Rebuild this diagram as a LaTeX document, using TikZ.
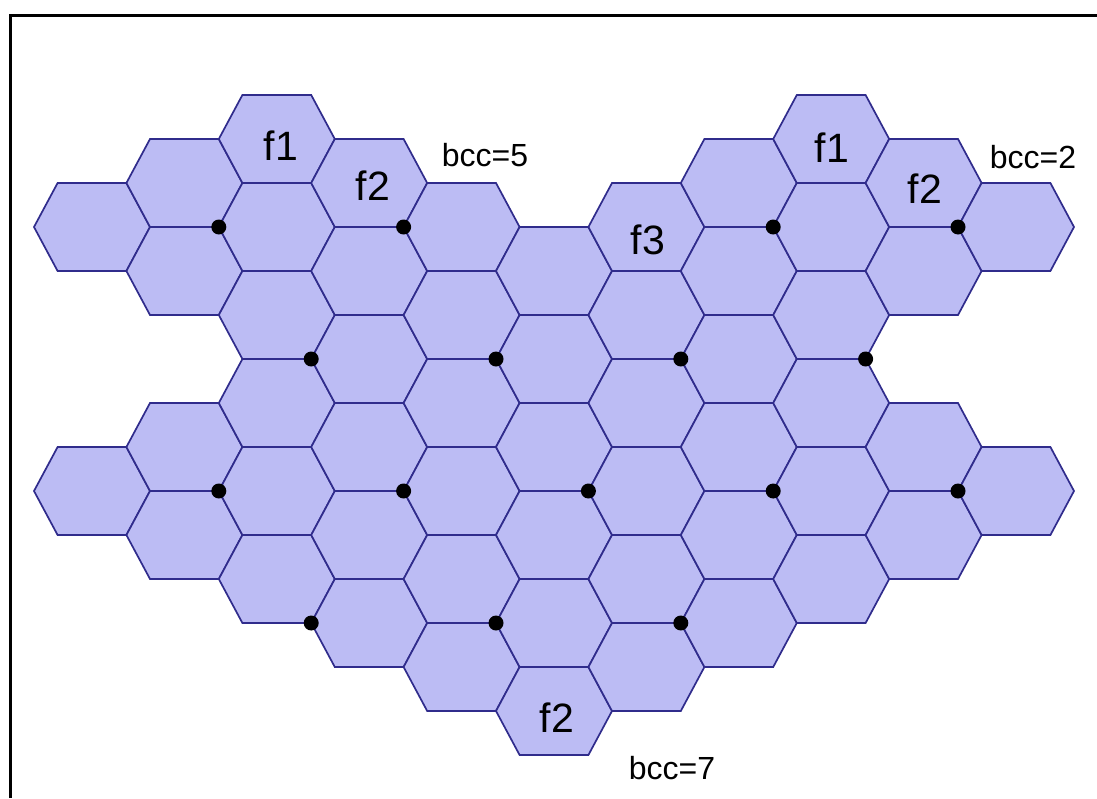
\documentclass[tikz,border=0pt]{standalone}
\usepackage{fontspec}
\setmainfont{Liberation Sans}
\usepackage{tikz}
\usepackage{xcolor}

\definecolor{cellfill}{RGB}{188,188,244}
\definecolor{celledge}{RGB}{48,44,140}

\begin{document}
\begin{tikzpicture}[x=1pt,y=-1pt,
    cell/.style={fill=cellfill,draw=celledge,line width=1.7pt},
    flabel/.style={font=\fontsize{41}{41}\selectfont},
    bcclabel/.style={font=\fontsize{32}{32}\selectfont}]
    \useasboundingbox (0,0) rectangle (1097,798);
    \draw[line width=3pt] (10,798) -- (10,15) -- (1097,15);
    % cells, one column at a time
    \foreach \c/\js in {0/{0,6},1/{-1,1,5,7},2/{-2,0,...,8},3/{-1,1,...,9},
                        4/{0,2,...,10},5/{1,3,...,11},6/{0,2,...,10},
                        7/{-1,1,...,9},8/{-2,0,...,8},9/{-1,1,5,7},10/{0,6}}{
        \foreach \j in \js{
            \draw[cell,shift={({92+92.4*\c},{227+44*\j})}]
                (-58,0) -- (-34.4,-44) -- (34.4,-44) -- (58,0)
                -- (34.4,44) -- (-34.4,44) -- cycle;
        }
    }
    % base stations
    \foreach \c/\j in {2/0,4/0,8/0,10/0,3/3,5/3,7/3,9/3,
                       2/6,4/6,6/6,8/6,10/6,3/9,5/9,7/9}{
        \fill ({92+92.4*\c-58},{227+44*\j}) circle (7.5pt);
    }
    \node[flabel] (f1l) at (281,146) {f1};
    \node[flabel] (f2l) at (373,186) {f2};
    \node[bcclabel] (bccl) at (485,155) {bcc=5};
    \node[flabel] (f1r) at (832,148) {f1};
    \node[flabel] (f2r) at (925,189) {f2};
    \node[bcclabel] (bccr) at (1033,157) {bcc=2};
    \node[flabel] (f3) at (648,240) {f3};
    \node[flabel] (f2b) at (557,718) {f2};
    \node[bcclabel] (bccb) at (672,768) {bcc=7};
\end{tikzpicture}
\end{document}
